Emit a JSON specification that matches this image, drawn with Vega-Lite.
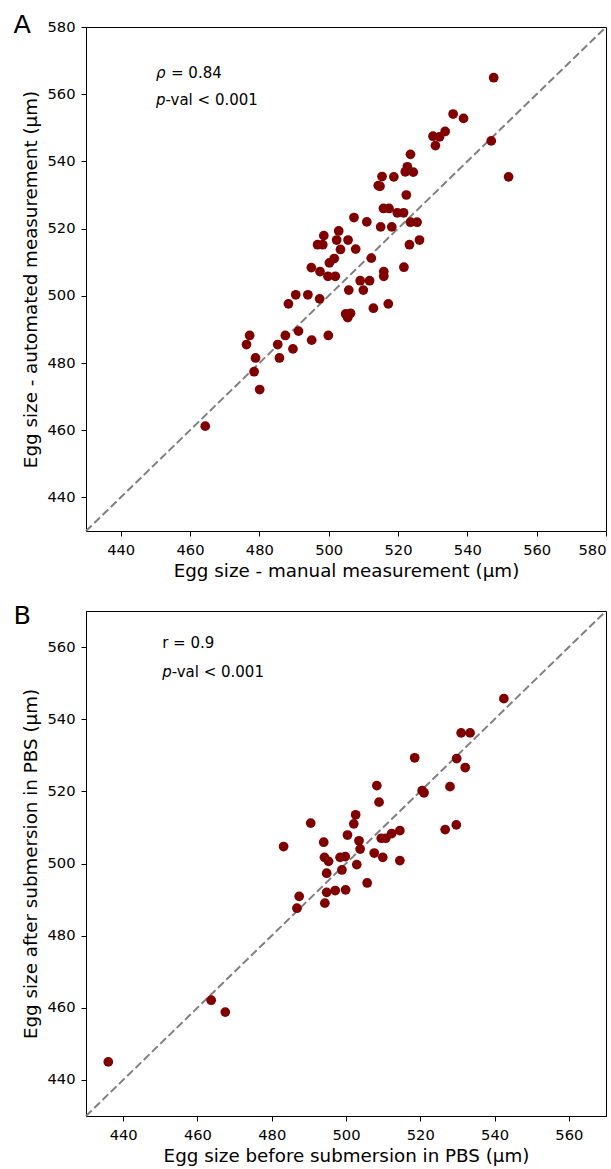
{
  "$schema": "https://vega.github.io/schema/vega-lite/v6.json",
  "padding": {"left": 13, "top": 12, "right": 0, "bottom": 0},
  "spacing": 22,
  "config": {
    "font": "DejaVu Sans",
    "view": {"stroke": "black", "strokeWidth": 1},
    "axis": {
      "domainColor": "black", "tickColor": "black", "labelColor": "black", "titleColor": "black",
      "labelFont": "DejaVu Sans", "titleFont": "DejaVu Sans",
      "labelFontSize": 14.7, "titleFontSize": 18.3, "titleFontWeight": "normal",
      "tickSize": 5, "grid": false, "labelPadding": 6, "titlePadding": 6,
      "domainWidth": 1, "tickWidth": 1
    }
  },
  "vconcat": [
    {
      "width": 520, "height": 504,
      "encoding": {
        "x": {"field": "x", "type": "quantitative", "scale": {"domain": [430, 580], "nice": false, "zero": false},
              "axis": {"values": [440, 460, 480, 500, 520, 540, 560, 580], "title": "Egg size - manual measurement (μm)"}},
        "y": {"field": "y", "type": "quantitative", "scale": {"domain": [430, 580], "nice": false, "zero": false},
              "axis": {"values": [440, 460, 480, 500, 520, 540, 560, 580], "title": "Egg size - automated measurement (μm)"}}
      },
      "layer": [
        {
          "data": {"values": [{"x": 430, "y": 430}, {"x": 580, "y": 580}]},
          "mark": {"type": "line", "color": "#808080", "strokeWidth": 2, "strokeDash": [8, 3.5]}
        },
        {
          "data": {"values": [
            {"x": 547.6, "y": 564.9}, {"x": 535.9, "y": 554.1}, {"x": 538.9, "y": 552.8}, {"x": 533.6, "y": 548.9},
            {"x": 530.1, "y": 547.5}, {"x": 532.0, "y": 547.3}, {"x": 530.8, "y": 544.7}, {"x": 546.9, "y": 546.1},
            {"x": 551.9, "y": 535.4}, {"x": 523.6, "y": 542.1}, {"x": 522.7, "y": 538.4}, {"x": 522.1, "y": 536.9},
            {"x": 524.4, "y": 536.8}, {"x": 518.8, "y": 535.4}, {"x": 515.4, "y": 535.5}, {"x": 514.3, "y": 532.8},
            {"x": 514.8, "y": 532.6}, {"x": 522.4, "y": 530.0}, {"x": 515.8, "y": 526.0}, {"x": 517.4, "y": 526.0},
            {"x": 519.8, "y": 524.7}, {"x": 521.6, "y": 524.7}, {"x": 523.6, "y": 521.9}, {"x": 525.5, "y": 521.9},
            {"x": 515.0, "y": 520.5}, {"x": 518.2, "y": 520.5}, {"x": 507.3, "y": 523.3}, {"x": 511.0, "y": 522.0},
            {"x": 523.3, "y": 515.2}, {"x": 526.2, "y": 516.6}, {"x": 498.6, "y": 517.9}, {"x": 502.9, "y": 519.3},
            {"x": 502.3, "y": 516.6}, {"x": 505.6, "y": 516.6}, {"x": 496.8, "y": 515.2}, {"x": 498.3, "y": 515.2},
            {"x": 503.4, "y": 513.8}, {"x": 507.8, "y": 513.9}, {"x": 501.6, "y": 511.1}, {"x": 500.2, "y": 509.8},
            {"x": 512.3, "y": 511.2}, {"x": 495.0, "y": 508.4}, {"x": 497.5, "y": 507.2}, {"x": 521.7, "y": 508.5},
            {"x": 515.9, "y": 507.2}, {"x": 515.9, "y": 505.8}, {"x": 499.8, "y": 505.8}, {"x": 501.9, "y": 505.8},
            {"x": 509.1, "y": 504.5}, {"x": 511.8, "y": 504.5}, {"x": 505.8, "y": 501.7}, {"x": 510.0, "y": 501.7},
            {"x": 490.5, "y": 500.3}, {"x": 494.0, "y": 500.3}, {"x": 497.4, "y": 499.1}, {"x": 488.4, "y": 497.6},
            {"x": 517.2, "y": 497.6}, {"x": 512.9, "y": 496.3}, {"x": 504.9, "y": 494.6}, {"x": 506.3, "y": 494.8},
            {"x": 505.5, "y": 493.5}, {"x": 491.3, "y": 489.5}, {"x": 487.5, "y": 488.2}, {"x": 499.9, "y": 488.2},
            {"x": 495.1, "y": 486.8}, {"x": 477.2, "y": 488.2}, {"x": 476.3, "y": 485.5}, {"x": 485.3, "y": 485.5},
            {"x": 489.7, "y": 484.2}, {"x": 478.9, "y": 481.5}, {"x": 485.8, "y": 481.5}, {"x": 478.5, "y": 477.4},
            {"x": 480.1, "y": 472.1}, {"x": 464.4, "y": 461.2}
          ]},
          "mark": {"type": "circle", "color": "#800000", "opacity": 1, "size": 95}
        },
        {
          "data": {"values": [{"x": 450.2, "y": 564.7, "label": "ρ"}, {"x": 450.2, "y": 556.8, "label": "p"}]},
          "mark": {"type": "text", "align": "left", "baseline": "alphabetic", "fontSize": 15, "fontStyle": "italic", "color": "black"},
          "encoding": {"text": {"field": "label"}}
        },
        {
          "data": {"values": [{"x": 450.2, "y": 564.7, "label": "= 0.84"}]},
          "mark": {"type": "text", "align": "left", "baseline": "alphabetic", "fontSize": 15, "dx": 15, "color": "black"},
          "encoding": {"text": {"field": "label"}}
        },
        {
          "data": {"values": [{"x": 450.2, "y": 556.8, "label": "-val < 0.001"}]},
          "mark": {"type": "text", "align": "left", "baseline": "alphabetic", "fontSize": 15, "dx": 9.5, "color": "black"},
          "encoding": {"text": {"field": "label"}}
        },
        {
          "data": {"values": [{"x": 409.1, "y": 578.2, "label": "A"}]},
          "mark": {"type": "text", "align": "left", "baseline": "alphabetic", "fontSize": 25.5, "color": "black"},
          "encoding": {"text": {"field": "label"}}
        }
      ]
    },
    {
      "width": 520, "height": 505,
      "encoding": {
        "x": {"field": "x", "type": "quantitative", "scale": {"domain": [430, 570], "nice": false, "zero": false},
              "axis": {"values": [440, 460, 480, 500, 520, 540, 560], "title": "Egg size before submersion in PBS (μm)"}},
        "y": {"field": "y", "type": "quantitative", "scale": {"domain": [430, 570], "nice": false, "zero": false},
              "axis": {"values": [440, 460, 480, 500, 520, 540, 560], "title": "Egg size after submersion in PBS (μm)"}}
      },
      "layer": [
        {
          "data": {"values": [{"x": 430, "y": 430}, {"x": 570, "y": 570}]},
          "mark": {"type": "line", "color": "#808080", "strokeWidth": 2, "strokeDash": [8, 3.5]}
        },
        {
          "data": {"values": [
            {"x": 542.5, "y": 545.7}, {"x": 531.0, "y": 536.2}, {"x": 533.4, "y": 536.2}, {"x": 518.5, "y": 529.3},
            {"x": 529.8, "y": 529.1}, {"x": 532.1, "y": 526.6}, {"x": 520.5, "y": 520.2}, {"x": 521.0, "y": 519.6},
            {"x": 508.3, "y": 521.6}, {"x": 528.0, "y": 521.3}, {"x": 508.9, "y": 517.0}, {"x": 490.5, "y": 511.2},
            {"x": 502.6, "y": 513.5}, {"x": 502.1, "y": 511.0}, {"x": 526.7, "y": 509.4}, {"x": 529.7, "y": 510.7},
            {"x": 500.4, "y": 507.9}, {"x": 514.5, "y": 509.1}, {"x": 512.3, "y": 508.3}, {"x": 510.7, "y": 507.0},
            {"x": 509.5, "y": 507.0}, {"x": 483.2, "y": 504.7}, {"x": 494.0, "y": 505.9}, {"x": 503.5, "y": 506.3},
            {"x": 503.8, "y": 504.0}, {"x": 507.6, "y": 502.9}, {"x": 509.9, "y": 501.7}, {"x": 514.5, "y": 500.8},
            {"x": 494.2, "y": 501.7}, {"x": 495.3, "y": 500.6}, {"x": 498.4, "y": 501.7}, {"x": 499.8, "y": 501.9},
            {"x": 502.9, "y": 499.7}, {"x": 498.9, "y": 498.2}, {"x": 494.8, "y": 497.3}, {"x": 505.7, "y": 494.6},
            {"x": 494.8, "y": 492.0}, {"x": 497.1, "y": 492.5}, {"x": 499.9, "y": 492.7}, {"x": 487.4, "y": 490.9},
            {"x": 486.8, "y": 487.6}, {"x": 494.3, "y": 489.0}, {"x": 463.7, "y": 462.1}, {"x": 467.5, "y": 458.8},
            {"x": 436.0, "y": 445.0}
          ]},
          "mark": {"type": "circle", "color": "#800000", "opacity": 1, "size": 95}
        },
        {
          "data": {"values": [{"x": 450.5, "y": 559.7, "label": "r = 0.9"}]},
          "mark": {"type": "text", "align": "left", "baseline": "alphabetic", "fontSize": 15, "color": "black"},
          "encoding": {"text": {"field": "label"}}
        },
        {
          "data": {"values": [{"x": 450.5, "y": 551.7, "label": "p"}]},
          "mark": {"type": "text", "align": "left", "baseline": "alphabetic", "fontSize": 15, "fontStyle": "italic", "color": "black"},
          "encoding": {"text": {"field": "label"}}
        },
        {
          "data": {"values": [{"x": 450.5, "y": 551.7, "label": "-val < 0.001"}]},
          "mark": {"type": "text", "align": "left", "baseline": "alphabetic", "fontSize": 15, "dx": 9.5, "color": "black"},
          "encoding": {"text": {"field": "label"}}
        },
        {
          "data": {"values": [{"x": 410.5, "y": 566.5, "label": "B"}]},
          "mark": {"type": "text", "align": "left", "baseline": "alphabetic", "fontSize": 25.5, "color": "black"},
          "encoding": {"text": {"field": "label"}}
        }
      ]
    }
  ]
}
